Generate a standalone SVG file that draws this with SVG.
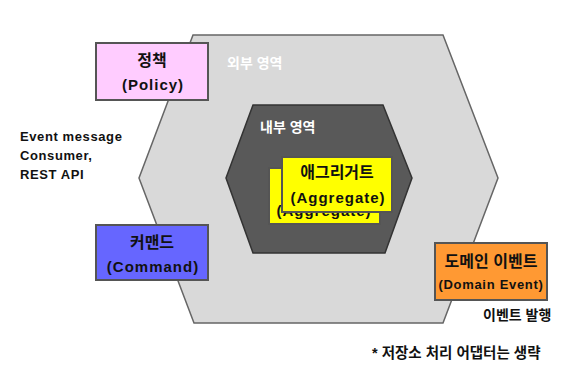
<svg xmlns="http://www.w3.org/2000/svg" width="566" height="380" viewBox="0 0 566 380">
<style>
text{font-family:"Liberation Sans","Noto Sans CJK KR",sans-serif;font-weight:bold;fill:#111;}
.k{text-anchor:middle;font-size:16px;}
.e{text-anchor:middle;font-size:15px;letter-spacing:1px;}
.s{font-size:13px;letter-spacing:0.6px;}
.l{font-size:14px;}
.w{fill:#ffffff;font-size:14px;}
.box{stroke:#555;stroke-width:2;}
</style>
<rect width="566" height="380" fill="#ffffff"/>
<g id="outer-area">
<polygon points="193,35 443,35 498,178 443,323 194,323 139,178" fill="#d9d9d9" stroke="#666" stroke-width="1.5"/>
<text class="w" x="227" y="68">외부 영역</text>
</g>
<g id="inner-area">
<polygon points="253,105 383,105 412,178 385,253 253,253 226,178" fill="#595959" stroke="#333" stroke-width="1.5"/>
<text class="w" x="260" y="132">내부 영역</text>
</g>
<g id="connectors"></g>
<g id="aggregate-back">
<rect class="box" x="269" y="168" width="111" height="56" fill="#ffff00"/>
<text class="e" x="324" y="215.5">(Aggregate)</text>
</g>
<g id="aggregate">
<rect class="box" x="282" y="157" width="110" height="55" fill="#ffff00"/>
<text class="k" x="337" y="178">애그리거트</text>
<text class="e" x="338" y="203">(Aggregate)</text>
</g>
<g id="policy">
<rect class="box" x="96" y="43" width="112" height="57" fill="#ffccff"/>
<text class="k" x="152" y="66">정책</text>
<text class="e" x="153" y="90">(Policy)</text>
</g>
<g id="command">
<rect class="box" x="96" y="225" width="112" height="55" fill="#6666ff"/>
<text class="k" x="152" y="248">커맨드</text>
<text class="e" x="153" y="272">(Command)</text>
</g>
<g id="domain-event">
<rect class="box" x="435" y="243" width="112" height="57" fill="#ff9933"/>
<text class="k" x="491" y="267">도메인 이벤트</text>
<text class="e" x="491" y="289" style="font-size:13px;letter-spacing:0.7px">(Domain Event)</text>
</g>
<g id="labels">
<text class="s" x="20" y="141">Event message</text>
<text class="s" x="20" y="160">Consumer,</text>
<text class="s" x="20" y="179">REST API</text>
<text class="l" x="483" y="320">이벤트 발행</text>
<text class="l" x="372" y="358" style="font-size:14.5px">*  저장소 처리 어댑터는 생략</text>
</g>
</svg>
